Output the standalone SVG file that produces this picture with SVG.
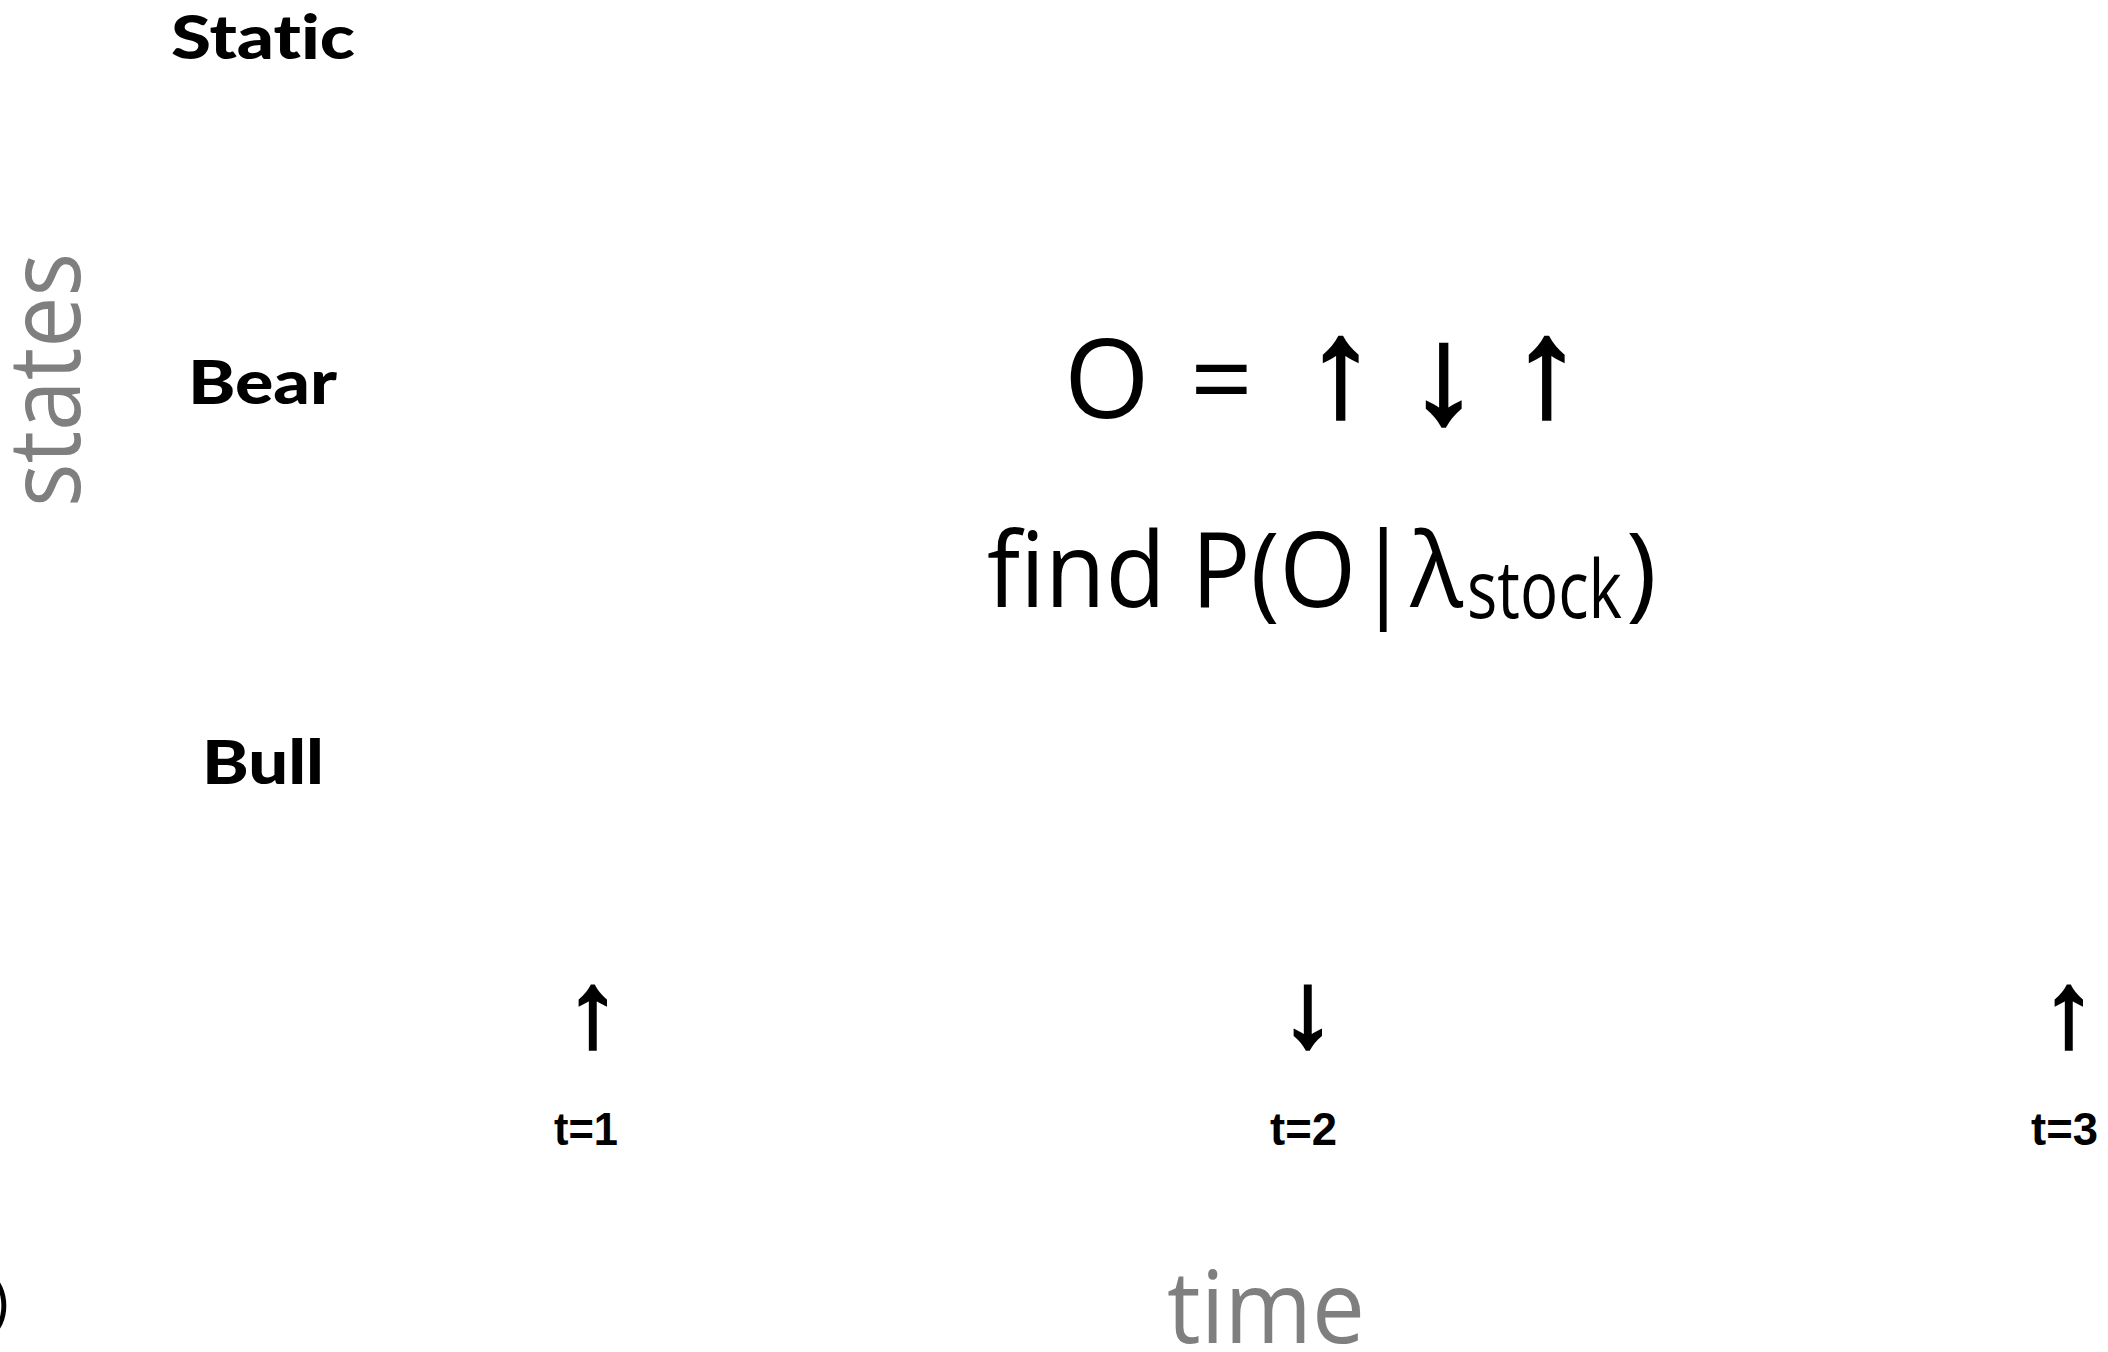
<svg xmlns="http://www.w3.org/2000/svg" width="2108" height="1352" viewBox="0 0 2108 1352">
<style>
.state{font-family:"Lato","Open Sans","Liberation Sans",sans-serif;font-weight:900;font-size:61px;fill:#000;font-variant-ligatures:none}
.axis{font-family:"Open Sans","Lato",sans-serif;font-size:100px;fill:#7f7f7f}
.math{font-family:"Open Sans","Lato",sans-serif;fill:#000}
.arr{font-family:"Liberation Sans",Arial,sans-serif;fill:#000;stroke:#000;stroke-width:3.5px;stroke-linejoin:miter}
.arrow{font-family:"Liberation Sans",Arial,sans-serif;fill:#000;stroke:#000;stroke-width:3.5px;stroke-linejoin:miter;text-anchor:middle}
.tlab{font-family:"Liberation Sans",Arial,sans-serif;font-weight:bold;font-size:46px;fill:#000}
</style>
<rect width="2108" height="1352" fill="#fff"/>
<g id="state-static"><text class="state" x="171" y="59" textLength="184" lengthAdjust="spacingAndGlyphs">Static</text></g>
<g id="state-bear"><text class="state" x="188" y="404" textLength="149" lengthAdjust="spacingAndGlyphs">Bear</text></g>
<g id="state-bull"><text class="state" x="202" y="784" textLength="122" lengthAdjust="spacingAndGlyphs">Bull</text></g>
<g id="axis-states"><text class="axis" transform="translate(80,507) rotate(-90)" x="0" y="0" textLength="254" lengthAdjust="spacingAndGlyphs">states</text></g>
<g id="axis-time"><text class="axis" x="1167" y="1343" textLength="198" lengthAdjust="spacingAndGlyphs">time</text></g>
<g id="observation">
<text class="math" style="font-size:110px" y="418"><tspan x="1064">O</tspan><tspan x="1190">=</tspan><tspan class="arr" style="font-size:138px" x="1306" y="415">↑</tspan><tspan class="arr" style="font-size:138px" x="1409" y="422">↓</tspan><tspan class="arr" style="font-size:138px" x="1512" y="415">↑</tspan></text>
</g>
<g id="probability">
<text class="math" style="font-size:104px" y="607"><tspan x="987" textLength="476" lengthAdjust="spacingAndGlyphs">find P(O|λ</tspan><tspan style="font-size:80px" x="1467" y="618" textLength="155" lengthAdjust="spacingAndGlyphs">stock</tspan><tspan x="1626" y="607">)</tspan></text>
</g>
<g id="step-1"><text class="arrow" style="font-size:106px" x="593" y="1046">↑</text><text class="tlab" x="554" y="1145" textLength="64" lengthAdjust="spacingAndGlyphs">t=1</text></g>
<g id="step-2"><text class="arrow" style="font-size:106px" x="1308" y="1046">↓</text><text class="tlab" x="1270" y="1145" textLength="67" lengthAdjust="spacingAndGlyphs">t=2</text></g>
<g id="step-3"><text class="arrow" style="font-size:106px" x="2069" y="1046">↑</text><text class="tlab" x="2031" y="1145" textLength="67" lengthAdjust="spacingAndGlyphs">t=3</text></g>
<g id="edge-fragment"><text class="math" style="font-size:60px" x="-9" y="1322">)</text></g>
</svg>
